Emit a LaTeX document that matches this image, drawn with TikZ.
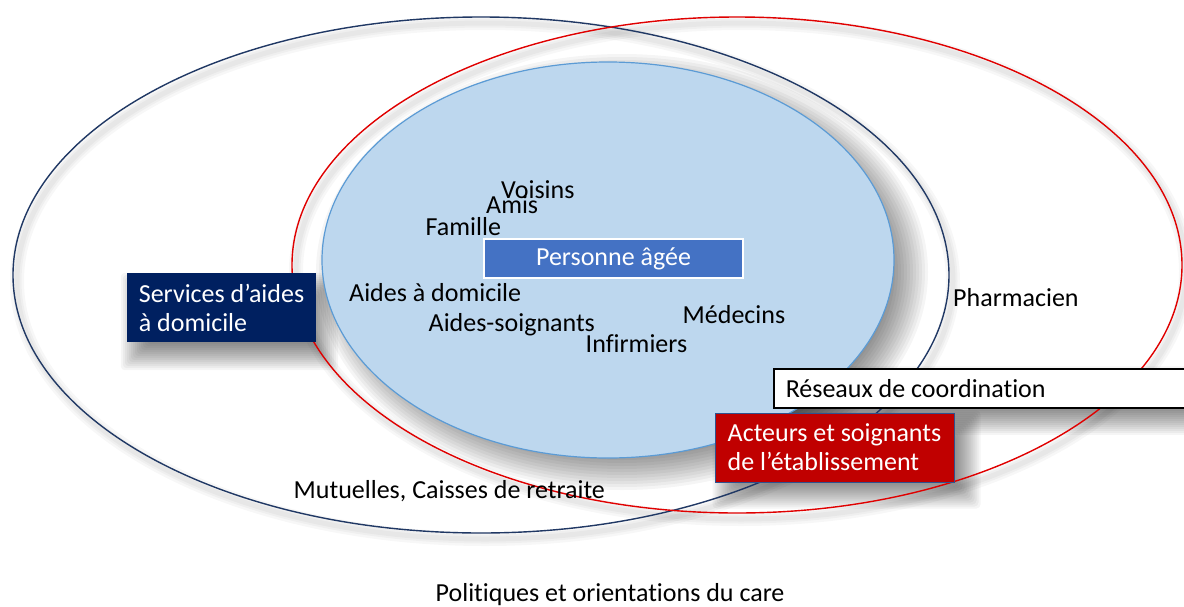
\documentclass[tikz,border=0pt]{standalone}
\usepackage{fontspec}
\setmainfont{Carlito}[Ligatures=NoCommon]
\usetikzlibrary{shapes.geometric}
\definecolor{navyline}{HTML}{203864}
\definecolor{redline}{HTML}{E00000}
\definecolor{innerfill}{HTML}{BDD7EE}
\definecolor{innerline}{HTML}{5B9BD5}
\definecolor{navybox}{HTML}{002060}
\definecolor{bluebox}{HTML}{4472C4}
\definecolor{redbox}{HTML}{C00000}
\definecolor{redboxline}{HTML}{2F528F}
\pgfdeclarelayer{bg}
\pgfsetlayers{bg,main}
\begin{document}
\begin{tikzpicture}[x=1pt,y=-1pt,
  txt/.style={font=\fontsize{26}{29}\selectfont},
  lbl/.style={txt, inner sep=0pt, anchor=base west, text=black},
  ring/.style={ellipse, inner sep=0pt, line width=1.4pt},
  darkbox/.style={txt, rectangle, inner sep=0pt, align=left, text=white},
  shade/.style={black, opacity=.04}
]
\useasboundingbox (0,0) rectangle (1184,606);

% outer rings
\node[ring, draw=navyline, minimum width=936pt, minimum height=516pt] (domicile) at (481,275) {};
\node[ring, draw=redline, minimum width=890pt, minimum height=496pt] (etab) at (737,265) {};

% inner circle
\node[ellipse, inner sep=0pt, fill=innerfill, draw=innerline, line width=1.2pt,
      minimum width=572pt, minimum height=396pt] (cercle) at (608,260) {};

% central box
\node[txt, rectangle, fill=bluebox, draw=white, line width=2pt, text=white,
      minimum width=259pt, minimum height=39pt, inner sep=0pt] (personne) at (613.5,258.5) {Personne âgée};

% inner labels
\node[lbl] (voisins) at (501,198) {Voisins};
\node[lbl] (amis) at (486,213) {Amis};
\node[lbl] (famille) at (425.5,235) {Famille};
\node[lbl] (aidesdom) at (349,301) {Aides à domicile};
\node[lbl] (aidessoi) at (428.5,331) {Aides-soignants};
\node[lbl] (infirm) at (585.5,352) {Infirmiers};
\node[lbl] (medecins) at (682.5,323) {Médecins};

% outer labels
\node[lbl] (pharma) at (953,306) {Pharmacien};
\node[lbl] (mutuelles) at (293.5,498) {Mutuelles, Caisses de retraite};
\node[lbl] (politiques) at (435.5,601) {Politiques et orientations du care};

% boxes
\node[darkbox, fill=navybox, minimum width=189pt, minimum height=69pt] (services) at (221.5,307.5) {Services d’aides\\à domicile};
\node[txt, rectangle, anchor=west, fill=white, draw=black, line width=1.5pt, text=black,
      minimum height=39pt, inner xsep=12pt, inner ysep=0pt] (reseaux) at (773,388.5) {\makebox[418pt][l]{Réseaux de coordination}};
\node[darkbox, fill=redbox, draw=redboxline, line width=1pt, minimum width=239pt, minimum height=69pt] (acteurs) at (834.5,447.5) {Acteurs et soignants\\de l’établissement};

% soft shadows
\begin{pgfonlayer}{bg}
\fill[white] (0,0) rectangle (1184,606);
\foreach \w in {14,9,5} {
  \draw[black, opacity=.03, line width=\w pt] ([shift={(4,6)}]domicile.center) ellipse [x radius=468, y radius=258];
  \draw[black, opacity=.03, line width=\w pt] ([shift={(4,6)}]etab.center) ellipse [x radius=445, y radius=248];
}
\foreach \e in {-22,-19,...,20}
  \fill[shade] ([shift={(14,12)}]cercle.center) ellipse [x radius={286+\e}, y radius={198+\e}];
\foreach \e in {-14,-12,...,14} {
  \fill[shade, rounded corners=4pt] ([shift={(8-\e,14-\e)}]services.north west) rectangle ([shift={(8+\e,14+\e)}]services.south east);
  \fill[shade, rounded corners=4pt] ([shift={(6-\e,12-\e)}]reseaux.north west) rectangle ([shift={(6+\e,12+\e)}]reseaux.south east);
  \fill[shade, rounded corners=4pt] ([shift={(12-\e,12-\e)}]acteurs.north west) rectangle ([shift={(12+\e,12+\e)}]acteurs.south east);
}
\end{pgfonlayer}
\end{tikzpicture}
\end{document}
